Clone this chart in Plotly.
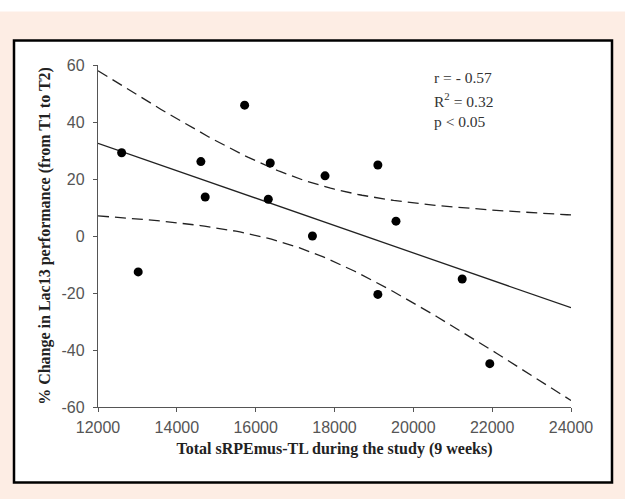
import numpy as np
import plotly.graph_objects as go

# Data
load_x = [12600, 13020, 14610, 14720, 15720, 16370, 16320, 17440, 17760, 19100, 19100, 19560, 21240, 21940]
change_y = [29.2, -12.6, 26.1, 13.7, 45.9, 25.6, 12.9, 0.0, 21.1, 24.9, -20.5, 5.2, -15.1, -44.8]
x_ticks = [12000, 14000, 16000, 18000, 20000, 22000, 24000]
y_ticks = [-60, -40, -20, 0, 20, 40, 60]
stats_text = ["r = - 0.57", "R<sup>2</sup> = 0.32", "p < 0.05"]

x = np.array(load_x, dtype=float)
y = np.array(change_y, dtype=float)
n = len(x)
slope, intercept = np.polyfit(x, y, 1)
xs = np.linspace(12000, 24000, 121)
fit = intercept + slope * xs
resid = y - (intercept + slope * x)
s = np.sqrt(np.sum(resid ** 2) / (n - 2))
sxx = np.sum((x - x.mean()) ** 2)
t = 2.179  # t(0.975, df=12)
half = t * s * np.sqrt(1.0 / n + (xs - x.mean()) ** 2 / sxx)

fig = go.Figure()
fig.add_trace(go.Scatter(x=xs, y=fit + half, mode="lines",
                         line=dict(color="#222222", width=1.3, dash="11px,6px"), hoverinfo="skip"))
fig.add_trace(go.Scatter(x=xs, y=fit - half, mode="lines",
                         line=dict(color="#222222", width=1.3, dash="11px,6px"), hoverinfo="skip"))
fig.add_trace(go.Scatter(x=xs, y=fit, mode="lines",
                         line=dict(color="#222222", width=1.3), hoverinfo="skip"))
fig.add_trace(go.Scatter(x=load_x, y=change_y, mode="markers",
                         marker=dict(color="#000000", size=9)))

W, H = 625, 499
ml, mr, mt, mb = 98, 54, 65, 92
pw, ph = W - ml - mr, H - mt - mb
def px(xp):
    return (xp - ml) / pw
def py(yp):
    return (H - mb - yp) / ph

fig.add_shape(type="rect", xref="paper", yref="paper",
              x0=px(-10), x1=px(W + 10), y0=py(11.5), y1=py(-10),
              fillcolor="white", line=dict(width=0), layer="below")
fig.add_shape(type="rect", xref="paper", yref="paper",
              x0=px(14), x1=px(612), y0=py(482.5), y1=py(40.5),
              fillcolor="white", line=dict(color="black", width=2.5), layer="below")

for i, txt in enumerate(stats_text):
    fig.add_annotation(xref="paper", yref="paper", x=px(432), y=py(77 + i * 22.5),
                       xanchor="left", yanchor="middle", text=txt, showarrow=False,
                       font=dict(family="Liberation Serif", size=15.5, color="#333333"))

axis_common = dict(showgrid=False, zeroline=False, showline=True, linecolor="#555555",
                   linewidth=1.3, ticks="outside", ticklen=4, tickcolor="#555555",
                   tickfont=dict(family="Liberation Sans", size=16, color="#555555"))

fig.update_layout(
    width=W, height=H,
    margin=dict(l=ml, r=mr, t=mt, b=mb),
    paper_bgcolor="#FDEDE4",
    plot_bgcolor="white",
    showlegend=False,
    xaxis=dict(range=[12000, 24000], tickvals=x_ticks, ticktext=[str(v) for v in x_ticks],
               ticklabelstandoff=2,
               title=dict(text="<b>Total sRPEmus-TL during the study (9 weeks)</b>",
                          font=dict(family="Liberation Serif", size=16, color="#222222"),
                          standoff=7),
               **axis_common),
    yaxis=dict(range=[-60, 60], tickvals=y_ticks, ticktext=[str(v) for v in y_ticks],
               ticklabelstandoff=5,
               title=dict(text="<b>% Change in Lac13 performance (from T1 to T2)</b>",
                          font=dict(family="Liberation Serif", size=16, color="#222222"),
                          standoff=6),
               **axis_common),
)

fig.write_html("out.html", config={"displayModeBar": False},
               post_script="document.body.style.margin='0';document.body.style.overflow='hidden';")
